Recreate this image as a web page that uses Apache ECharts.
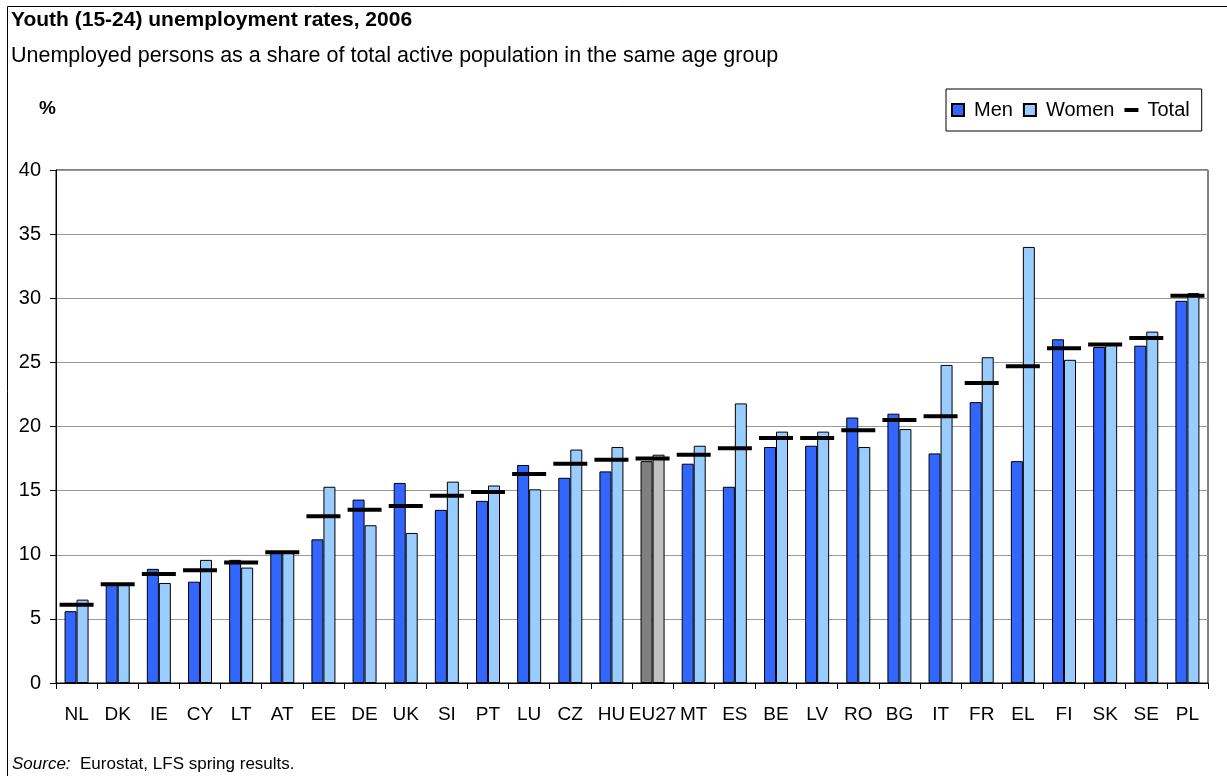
<!DOCTYPE html>
<html>
<head>
<meta charset="utf-8">
<script src="https://cdn.jsdelivr.net/npm/echarts@6/dist/echarts.min.js"></script>
<style>
  html, body { margin: 0; padding: 0; background: #fff; }
  #main { width: 1227px; height: 776px; }
</style>
</head>
<body>
<div id="main"></div>
<script>
// 数据
var countries = ['NL', 'DK', 'IE', 'CY', 'LT', 'AT', 'EE', 'DE', 'UK', 'SI', 'PT', 'LU', 'CZ', 'HU', 'EU27',
  'MT', 'ES', 'BE', 'LV', 'RO', 'BG', 'IT', 'FR', 'EL', 'FI', 'SK', 'SE', 'PL'];
var men = [5.6, 7.7, 8.9, 7.9, 9.6, 10.2, 11.2, 14.3, 15.6, 13.5, 14.2, 17.0, 16.0, 16.5, 17.3,
  17.1, 15.3, 18.4, 18.5, 20.7, 21.0, 17.9, 21.9, 17.3, 26.8, 26.2, 26.3, 29.8];
var women = [6.5, 7.7, 7.8, 9.6, 9.0, 10.2, 15.3, 12.3, 11.7, 15.7, 15.4, 15.1, 18.2, 18.4, 17.8,
  18.5, 21.8, 19.6, 19.6, 18.4, 19.8, 24.8, 25.4, 34.0, 25.2, 26.4, 27.4, 30.4];
var total = [6.1, 7.7, 8.5, 8.8, 9.4, 10.2, 13.0, 13.5, 13.8, 14.6, 14.9, 16.3, 17.1, 17.4, 17.5,
  17.8, 18.3, 19.1, 19.1, 19.7, 20.5, 20.8, 23.4, 24.7, 26.1, 26.4, 26.9, 30.2];
var yTicks = [0, 5, 10, 15, 20, 25, 30, 35, 40];

var font = '"Liberation Sans", Arial, sans-serif';

// EU27 用灰色
function markEU(arr, color) {
  return arr.map(function (v, i) {
    if (countries[i] === 'EU27') {
      return { value: v, itemStyle: { color: color } };
    }
    return v;
  });
}

var myChart = echarts.init(document.getElementById('main'), null, { renderer: 'canvas' });

var option = {
  animation: false,
  backgroundColor: '#fff',
  textStyle: { fontFamily: font, color: '#000' },
  title: {
    text: 'Youth (15-24) unemployment rates, 2006',
    subtext: 'Unemployed persons as a share of total active population in the same age group',
    left: 11,
    top: 10,
    padding: 0,
    itemGap: 14,
    textStyle: { fontFamily: font, fontSize: 21, fontWeight: 'bold', color: '#000' },
    subtextStyle: { fontFamily: font, fontSize: 21.5, color: '#000' }
  },
  legend: {
    left: 946,
    top: 89,
    itemWidth: 14,
    itemHeight: 12,
    itemGap: 10,
    padding: [11, 12, 11, 5],
    borderColor: '#000',
    borderWidth: 1,
    textStyle: { fontFamily: font, fontSize: 20, color: '#000', padding: [0, 0, 0, 4] },
    data: [
      { name: 'Men', icon: 'path://M0,0h10v10h-10z' },
      { name: 'Women', icon: 'path://M0,0h10v10h-10z' },
      { name: 'Total', icon: 'path://M0,0h14v4h-14z' }
    ]
  },
  grid: {
    left: 56,
    right: 19,
    top: 170,
    bottom: 93,
    show: true,
    borderColor: '#000',
    borderWidth: 1,
    outerBoundsMode: 'none'
  },
  xAxis: {
    type: 'category',
    data: countries,
    axisLine: { lineStyle: { color: '#000', width: 1 } },
    axisTick: { show: true, length: 6, lineStyle: { color: '#000' } },
    axisLabel: { interval: 0, margin: 22, fontSize: 19, color: '#000', fontFamily: font },
    splitLine: { show: false }
  },
  yAxis: {
    type: 'value',
    min: yTicks[0],
    max: yTicks[yTicks.length - 1],
    interval: 5,
    name: '%',
    nameLocation: 'end',
    nameGap: 52,
    nameTextStyle: { fontFamily: font, fontSize: 19, fontWeight: 'bold', color: '#000', align: 'right' },
    axisLine: { show: true, lineStyle: { color: '#000', width: 1 } },
    axisTick: { show: true, length: 6, lineStyle: { color: '#000' } },
    axisLabel: { margin: 15, fontSize: 20, color: '#000', fontFamily: font },
    splitLine: { show: true, lineStyle: { color: '#999', width: 1 } }
  },
  series: [
    {
      name: 'Men',
      type: 'bar',
      barWidth: 12,
      barGap: '0%',
      itemStyle: { color: '#3366FF', borderColor: '#000', borderWidth: 1 },
      emphasis: { disabled: true },
      data: markEU(men, '#808080')
    },
    {
      name: 'Women',
      type: 'bar',
      barWidth: 12,
      barGap: '0%',
      itemStyle: { color: '#99CCFF', borderColor: '#000', borderWidth: 1 },
      emphasis: { disabled: true },
      data: markEU(women, '#C0C0C0')
    },
    {
      name: 'Total',
      type: 'scatter',
      symbol: 'rect',
      symbolSize: [34, 4],
      itemStyle: { color: '#000', opacity: 1 },
      emphasis: { disabled: true },
      z: 5,
      data: total
    }
  ],
  graphic: [
    {
      type: 'rect',
      silent: true,
      shape: { x: 7.5, y: 6.5, width: 1400, height: 1000 },
      style: { fill: null, stroke: '#000', lineWidth: 1 }
    },
    {
      type: 'text',
      left: 12,
      top: 756,
      style: {
        text: '{i|Source:}  Eurostat, LFS spring results.',
        font: '17px ' + font,
        fill: '#000',
        rich: {
          i: { fontStyle: 'italic', fontSize: 17, fontFamily: font, fill: '#000' }
        }
      }
    }
  ]
};

myChart.setOption(option);
</script>
</body>
</html>
